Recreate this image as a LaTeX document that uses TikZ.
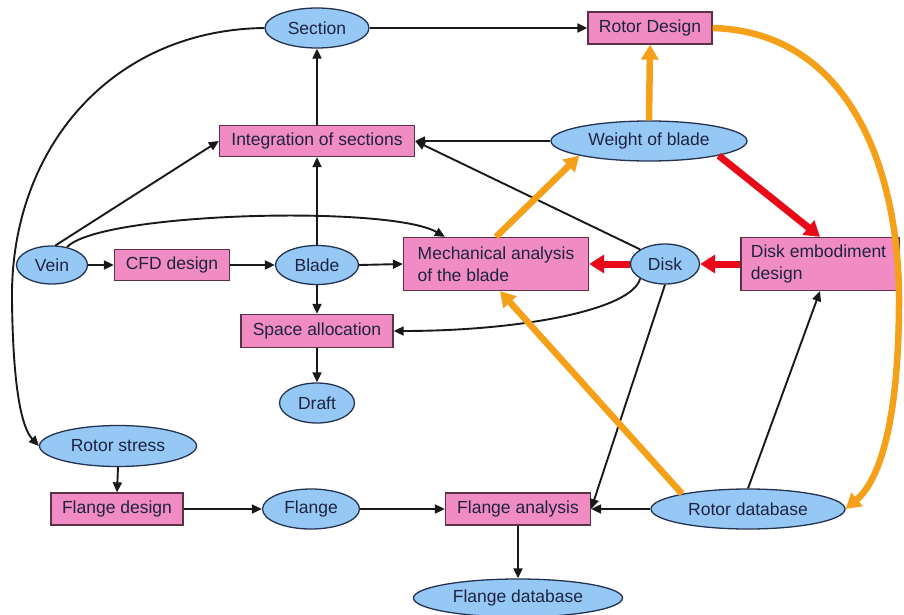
\documentclass[tikz,border=0pt]{standalone}
\usepackage{fontspec}
\setmainfont{Liberation Sans}
\usetikzlibrary{shapes.geometric,arrows.meta,calc}
\definecolor{nodeblue}{RGB}{150,200,245}
\definecolor{nodepink}{RGB}{240,140,195}
\definecolor{arrorange}{RGB}{245,160,25}
\definecolor{arrred}{RGB}{232,10,25}
\definecolor{txtdark}{RGB}{30,35,65}
\definecolor{edgeblue}{RGB}{35,50,80}
\definecolor{edgepink}{RGB}{90,50,70}
\begin{document}
\begin{tikzpicture}[x=1pt,y=-1pt,
  font=\fontsize{17.5}{22}\selectfont,
  ell/.style={ellipse, draw=edgeblue, line width=1.3pt, fill=nodeblue, inner sep=0pt, text=txtdark},
  box/.style={rectangle, draw=edgepink, line width=1.3pt, fill=nodepink, inner sep=0pt, text=txtdark},
  blk/.style={draw=black!90, line width=1.9pt, -{Triangle[length=10pt,width=9pt]}},
  org/.style={draw=arrorange, line width=6.5pt, -{Triangle[length=15pt,width=17pt]}},
  redarr/.style={draw=arrred, line width=7pt, -{Triangle[length=15pt,width=18pt]}}
]
\useasboundingbox (0,0) rectangle (904,615);

% nodes
\node[ell, minimum width=104pt, minimum height=40pt] (sec) at (317,28) {Section};
\node[box, minimum width=124pt, minimum height=32pt] (rd) at (650,28) {Rotor Design};
\node[box, minimum width=195pt, minimum height=31pt] (integ) at (317,141) {Integration of sections};
\node[ell, minimum width=196pt, minimum height=40pt] (wb) at (649,141) {Weight of blade};
\node[ell, minimum width=71pt, minimum height=38pt] (vein) at (52,265) {Vein};
\node[box, minimum width=115pt, minimum height=31pt] (cfd) at (172,265) {CFD design};
\node[ell, minimum width=83pt, minimum height=39pt] (blade) at (317,265) {Blade};
\node[box, minimum width=185pt, minimum height=53pt, align=left] (mech) at (496,264) {Mechanical analysis\\of the blade};
\node[ell, minimum width=69pt, minimum height=40pt] (disk) at (665,264) {Disk};
\node[box, minimum width=158pt, minimum height=53pt, align=left] (de) at (820,264) {Disk embodiment\\design\phantom{mbodiment}};
\node[box, minimum width=152pt, minimum height=33pt] (sa) at (317,331) {Space allocation};
\node[ell, minimum width=75pt, minimum height=40pt] (draft) at (317,403) {Draft};
\node[ell, minimum width=157pt, minimum height=41pt] (rs) at (118,446) {Rotor stress};
\node[box, minimum width=132pt, minimum height=32pt] (fd) at (117,509) {Flange design};
\node[ell, minimum width=97pt, minimum height=40pt] (fl) at (311,509) {Flange};
\node[box, minimum width=145pt, minimum height=32pt] (fa) at (518,509) {Flange analysis};
\node[ell, minimum width=194pt, minimum height=40pt] (rdb) at (748,509) {Rotor database};
\node[ell, minimum width=209pt, minimum height=38pt] (fdb) at (518,598) {Flange database};

% black connectors
\draw[blk] (sec.east) -- (rd.west);
\draw[blk] (sec.west) .. controls (110,30) and (10,150) .. (12,300) .. controls (13,390) and (22,428) .. (rs.west);
\draw[blk] (integ.north) -- (sec.south);
\draw[blk] (blade.north) -- (integ.south);
\draw[blk] (vein.80) -- (integ.west);
\draw[blk] (vein.50) .. controls (100,212) and (390,205) .. ([xshift=42pt]mech.north west);
\draw[blk] (vein.east) -- (cfd.west);
\draw[blk] (cfd.east) -- (blade.west);
\draw[blk] (blade.east) -- (mech.west);
\draw[blk] (blade.south) -- (sa.north);
\draw[blk] (sa.south) -- (draft.north);
\draw[blk] (disk.south west) .. controls (632,310) and (520,331) .. (sa.east);
\draw[blk] (disk.north west) -- (integ.east);
\draw[blk] (wb.west) -- (integ.east);
\draw[blk] (disk.south) -- (fa.east);
\draw[blk] (rdb.west) -- (fa.east);
\draw[blk] (rdb.north) -- (de.south);
\draw[blk] (rs.south) -- (fd.north);
\draw[blk] (fd.east) -- (fl.west);
\draw[blk] (fl.east) -- (fa.west);
\draw[blk] (fa.south) -- (fdb.north);

% orange connectors
\draw[org] (wb.north) -- (rd.south);
\draw[org] (mech.north) -- (wb.south west);
\draw[org] (rdb.167) -- ([xshift=4pt]mech.south);
\draw[org] (rd.east) .. controls (850,32) and (899,170) .. (899,300) .. controls (899,420) and (880,480) .. (rdb.east);

% red connectors
\draw[redarr] (wb.south east) -- (de.north);
\draw[redarr] (de.west) -- (disk.east);
\draw[redarr] (disk.west) -- (mech.east);
\end{tikzpicture}
\end{document}
